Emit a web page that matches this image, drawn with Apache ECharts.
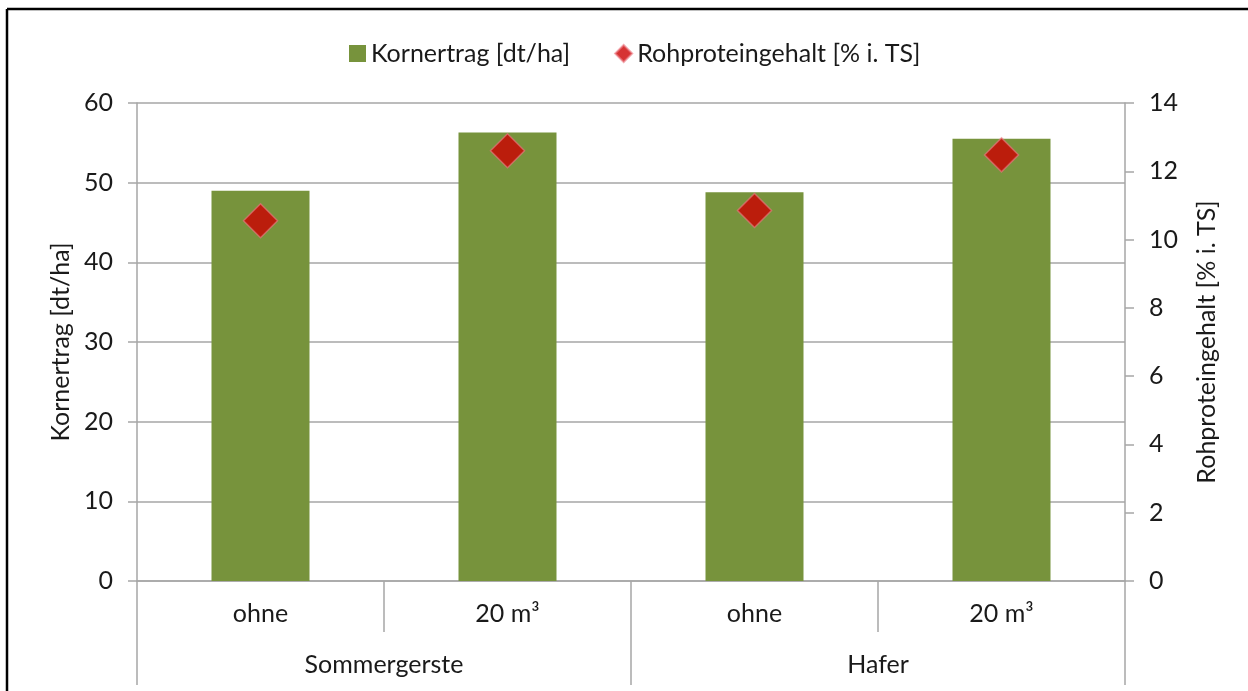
<!DOCTYPE html>
<html>
<head>
<meta charset="utf-8">
<script src="https://cdn.jsdelivr.net/npm/echarts@6/dist/echarts.min.js"></script>
<style>
  html, body { margin: 0; padding: 0; background: #fff; }
  #chart { width: 1248px; height: 691px; }
</style>
</head>
<body>
<div id="chart"></div>
<script>
// Kornertrag / Rohproteingehalt — Sommergerste und Hafer
const categories = ['ohne', '20 m³', 'ohne', '20 m³'];
const groups = ['Sommergerste', 'Hafer'];
const kornertrag = [49.0, 56.3, 48.8, 55.5];
const rohprotein = [10.55, 12.6, 10.85, 12.48];
const leftTicks = { min: 0, max: 60, interval: 10 };
const rightTicks = { min: 0, max: 14, interval: 2 };

const FONT = 'Lato';
const FS = 25;
const TXT = '#1a1a1a';
const LINE = '#a6a6a6';

const chart = echarts.init(document.getElementById('chart'));
chart.setOption({
  animation: false,
  textStyle: { fontFamily: FONT, color: TXT },
  legend: {
    top: 36,
    left: 344,
    itemWidth: 17,
    itemHeight: 17,
    itemGap: 44,
    textStyle: { fontFamily: FONT, fontSize: FS, color: TXT },
    data: [
      { name: 'Kornertrag [dt/ha]', icon: 'rect' },
      { name: 'Rohproteingehalt [% i. TS]', icon: 'diamond' }
    ]
  },
  grid: { left: 137, right: 123, top: 103, bottom: 110 },
  xAxis: [
    {
      type: 'category',
      data: categories,
      position: 'bottom',
      axisLine: { lineStyle: { color: LINE, width: 1.5 } },
      axisTick: { show: true, length: 51, alignWithLabel: false, lineStyle: { color: LINE, width: 1.5 } },
      axisLabel: { fontSize: FS, color: TXT, margin: 20 },
      splitLine: { show: false }
    },
    {
      type: 'category',
      data: groups,
      position: 'bottom',
      axisLine: { show: false },
      axisTick: { show: true, length: 104, lineStyle: { color: LINE, width: 1.5 } },
      axisLabel: { fontSize: FS, color: TXT, margin: 71 },
      splitLine: { show: false }
    }
  ],
  yAxis: [
    {
      type: 'value',
      min: leftTicks.min,
      max: leftTicks.max,
      interval: leftTicks.interval,
      position: 'left',
      name: 'Kornertrag [dt/ha]',
      nameLocation: 'middle',
      nameGap: 62,
      nameTextStyle: { fontSize: FS, color: TXT },
      axisLine: { show: true, lineStyle: { color: LINE, width: 1.5 } },
      axisTick: { show: true, length: 9, lineStyle: { color: LINE, width: 1.5 } },
      axisLabel: { fontSize: FS, color: TXT, margin: 24 },
      splitLine: { show: true, lineStyle: { color: LINE, width: 1.5 } }
    },
    {
      type: 'value',
      min: rightTicks.min,
      max: rightTicks.max,
      interval: rightTicks.interval,
      position: 'right',
      name: 'Rohproteingehalt [% i. TS]',
      nameLocation: 'middle',
      nameGap: 69,
      nameRotate: 90,
      nameTextStyle: { fontSize: FS, color: TXT },
      axisLine: { show: true, lineStyle: { color: LINE, width: 1.5 } },
      axisTick: { show: true, length: 9, lineStyle: { color: LINE, width: 1.5 } },
      axisLabel: { fontSize: FS, color: TXT, margin: 24 },
      splitLine: { show: false }
    }
  ],
  graphic: [
    { type: 'line', shape: { x1: 7, y1: 9, x2: 1248, y2: 9 }, style: { stroke: '#000', lineWidth: 2.5 } },
    { type: 'line', shape: { x1: 7, y1: 9, x2: 7, y2: 691 }, style: { stroke: '#000', lineWidth: 2.5 } }
  ],
  series: [
    {
      name: 'Kornertrag [dt/ha]',
      type: 'bar',
      xAxisIndex: 0,
      yAxisIndex: 0,
      data: kornertrag,
      barWidth: 98,
      itemStyle: { color: '#77933c' }
    },
    {
      name: 'Rohproteingehalt [% i. TS]',
      type: 'scatter',
      xAxisIndex: 0,
      yAxisIndex: 1,
      data: rohprotein,
      symbol: 'diamond',
      symbolSize: 34,
      itemStyle: { color: '#cc0000', borderColor: 'rgba(235,120,130,0.8)', borderWidth: 1.5 },
      z: 5
    }
  ]
});
</script>
</body>
</html>
